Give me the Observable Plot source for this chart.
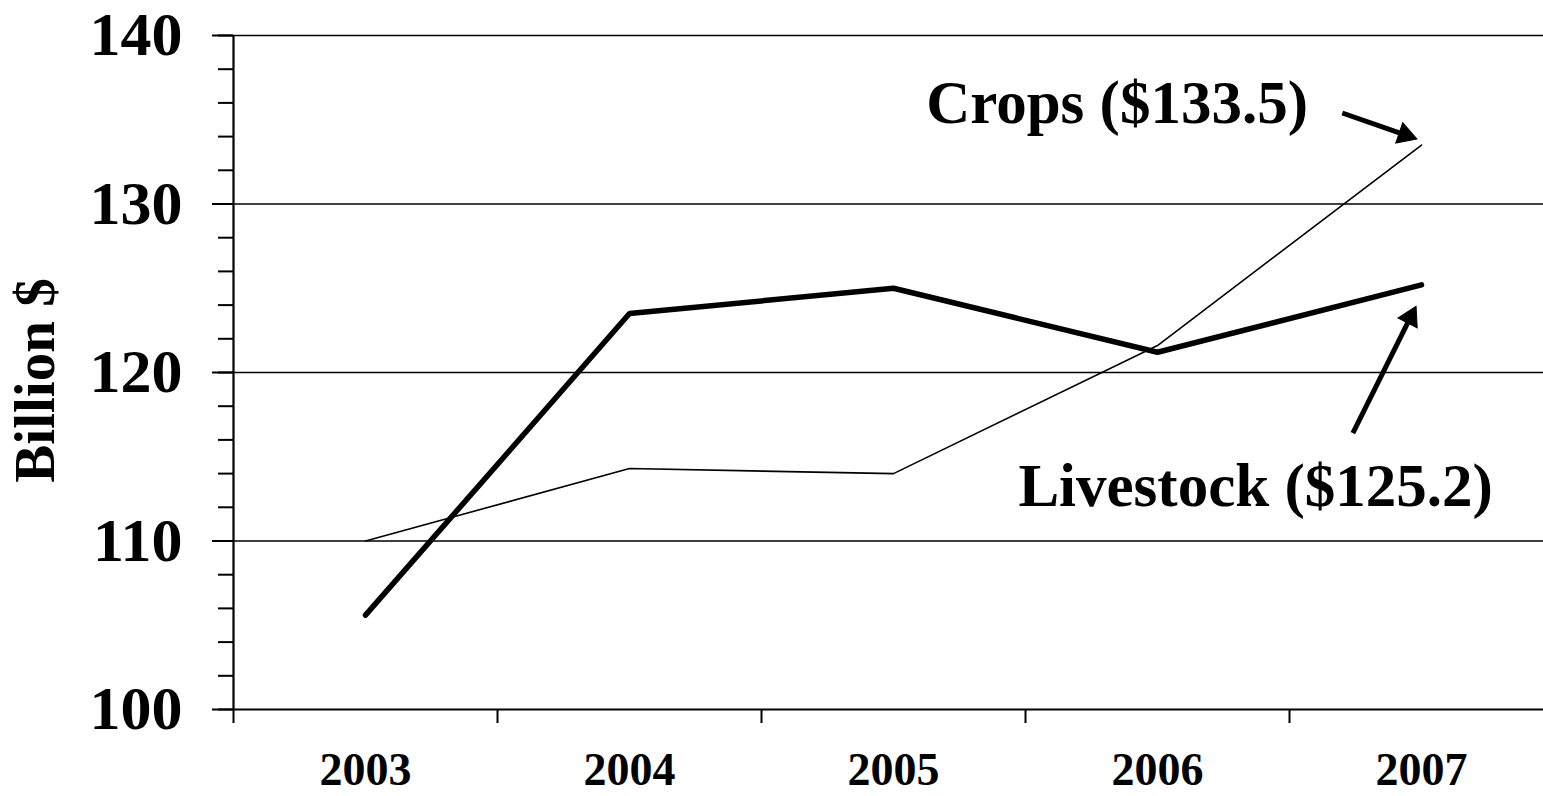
<!DOCTYPE html>
<html>
<head>
<meta charset="utf-8">
<script src="https://cdn.jsdelivr.net/npm/d3@7"></script>
<script src="https://cdn.jsdelivr.net/npm/@observablehq/plot@0.6"></script>
<style>
  html, body { margin: 0; padding: 0; background: #fff; }
  #chart svg { display: block; }
</style>
</head>
<body>
<div id="chart"></div>
<script>
// Data
const years = [2003, 2004, 2005, 2006, 2007];
const livestock = [105.6, 123.5, 125.0, 121.2, 125.2];
const crops = [110.0, 114.3, 114.0, 121.6, 133.5];

const yMajorTicks = [100, 110, 120, 130, 140];
const yMinorTicks = d3.range(100, 141, 2);
const gridValues = [110, 120, 130, 140];
const bandEdges = [2002.5, 2003.5, 2004.5, 2005.5, 2006.5];

// Annotations (data coordinates)
const labels = [
  {text: "Crops ($133.5)", x: 2006.57, y: 134.8},
  {text: "Livestock ($125.2)", x: 2007.27, y: 112.1}
];
// arrow shafts: from label toward the line end; heads: filled triangles
const arrowShafts = [
  {x1: 2006.70, y1: 135.4, x2: 2006.938, y2: 134.10},
  {x1: 2006.74, y1: 116.4, x2: 2006.958, y2: 123.27}
];
const arrowHeads = [
  {x: 2006.938, y: 134.10, rotate: 109},
  {x: 2006.958, y: 123.27, rotate: 27}
];

const rows = (vals, series) => years.map((yr, i) => ({year: yr, value: vals[i], series}));
const livestockData = rows(livestock, "Livestock");
const cropsData = rows(crops, "Crops");

const font = "'Liberation Serif', 'Times New Roman', serif";

const chart = Plot.plot({
  width: 1543,
  height: 796,
  marginTop: 35,
  marginBottom: 87,
  marginLeft: 233,
  marginRight: 0,
  style: {fontFamily: font, fontWeight: "bold", color: "#000", background: "#fff", overflow: "hidden"},
  x: {type: "linear", domain: [2002.5, 2007.5], range: [233, 1553]},
  y: {domain: [100, 140], range: [709, 35]},
  marks: [
    Plot.ruleY(gridValues, {stroke: "#000", strokeWidth: 1.5}),
    Plot.ruleY([100], {stroke: "#000", strokeWidth: 2.2}),
    Plot.ruleX([2002.5], {y1: 100, y2: 140, stroke: "#000", strokeWidth: 2.2}),
    Plot.axisY({ticks: yMinorTicks, tickSize: 15, text: null, label: null, strokeWidth: 2}),
    Plot.axisY({ticks: yMajorTicks, tickSize: 21, tickPadding: 30, label: null, fontSize: 62, strokeWidth: 2, tickFormat: d => String(d)}),
    Plot.axisX({ticks: bandEdges, tickSize: 14, text: null, label: null, strokeWidth: 2}),
    Plot.axisX({ticks: years, tickSize: 0, tickPadding: 43, label: null, fontSize: 46, tickFormat: d => String(d)}),
    Plot.text(["Billion $"], {frameAnchor: "left", textAnchor: "middle", dx: -198, dy: 8, rotate: -90, fontSize: 57, fontWeight: "bold", fill: "#000"}),
    Plot.line(cropsData, {x: "year", y: "value", stroke: "#000", strokeWidth: 1.6, strokeLinejoin: "miter"}),
    Plot.line(livestockData, {x: "year", y: "value", stroke: "#000", strokeWidth: 5.5, strokeLinejoin: "miter", strokeLinecap: "round"}),
    Plot.text(labels, {x: "x", y: "y", text: "text", textAnchor: "end", lineAnchor: "bottom", fontSize: 61, fontWeight: "bold", fill: "#000"}),
    Plot.link(arrowShafts, {x1: "x1", y1: "y1", x2: "x2", y2: "y2", stroke: "#000", strokeWidth: 5}),
    Plot.dot(arrowHeads, {x: "x", y: "y", rotate: "rotate", symbol: "triangle", r: 8, fill: "#000", stroke: "#000", strokeWidth: 1})
  ]
});

document.getElementById("chart").appendChild(chart);
</script>
</body>
</html>
